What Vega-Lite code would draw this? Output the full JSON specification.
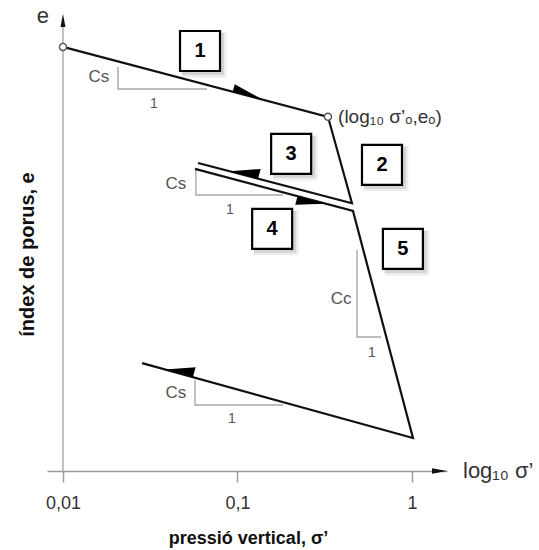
{
  "$schema": "https://vega.github.io/schema/vega-lite/v6.json",
  "width": 400,
  "height": 457,
  "autosize": {"type": "none"},
  "padding": {"left": 47, "right": 92, "top": 14, "bottom": 79},
  "background": "white",
  "config": {"view": {"stroke": null}, "font": "Liberation Sans"},
  "datasets": {
    "curve": [
      {"seg": "a", "i": 1, "s": 0.01, "e": 0.928},
      {"seg": "a", "i": 2, "s": 0.330, "e": 0.775},
      {"seg": "a", "i": 3, "s": 0.453, "e": 0.586},
      {"seg": "a", "i": 4, "s": 0.0594, "e": 0.674},
      {"seg": "b", "i": 1, "s": 0.0571, "e": 0.661},
      {"seg": "b", "i": 2, "s": 0.459, "e": 0.569},
      {"seg": "b", "i": 3, "s": 1.013, "e": 0.0722},
      {"seg": "b", "i": 4, "s": 0.0284, "e": 0.236}
    ],
    "guides": [
      {"g": "t1", "i": 1, "s": 0.02066, "e": 0.884},
      {"g": "t1", "i": 2, "s": 0.02066, "e": 0.836},
      {"g": "t1", "i": 3, "s": 0.0669, "e": 0.836},
      {"g": "t2", "i": 1, "s": 0.0578, "e": 0.661},
      {"g": "t2", "i": 2, "s": 0.0578, "e": 0.604},
      {"g": "t2", "i": 3, "s": 0.1823, "e": 0.604},
      {"g": "t3", "i": 1, "s": 0.484, "e": 0.4836},
      {"g": "t3", "i": 2, "s": 0.484, "e": 0.2932},
      {"g": "t3", "i": 3, "s": 0.664, "e": 0.2932},
      {"g": "t4", "i": 1, "s": 0.0571, "e": 0.1991},
      {"g": "t4", "i": 2, "s": 0.0571, "e": 0.1444},
      {"g": "t4", "i": 3, "s": 0.1823, "e": 0.1444},
      {"g": "yaxis", "i": 1, "s": 0.01, "e": 0},
      {"g": "yaxis", "i": 2, "s": 0.01, "e": 0.972}
    ],
    "boxes": [
      {"n": "1", "s": 0.0610, "e": 0.919},
      {"n": "2", "s": 0.673, "e": 0.670},
      {"n": "3", "s": 0.203, "e": 0.694},
      {"n": "4", "s": 0.158, "e": 0.530},
      {"n": "5", "s": 0.887, "e": 0.486}
    ],
    "notes": [
      {"kind": "c", "t": "Cs", "s": 0.01608, "e": 0.862},
      {"kind": "c", "t": "Cs", "s": 0.0444, "e": 0.628},
      {"kind": "c", "t": "Cc", "s": 0.392, "e": 0.376},
      {"kind": "c", "t": "Cs", "s": 0.0444, "e": 0.1707},
      {"kind": "one", "t": "1", "s": 0.0332, "e": 0.803},
      {"kind": "one", "t": "1", "s": 0.0906, "e": 0.571},
      {"kind": "one", "t": "1", "s": 0.590, "e": 0.258},
      {"kind": "one", "t": "1", "s": 0.0930, "e": 0.1138}
    ]
  },
  "encoding": {
    "x": {
      "field": "s", "type": "quantitative",
      "scale": {"type": "log", "domain": [0.0081, 1.587]},
      "axis": {
        "values": [0.01, 0.1, 1], "format": "~g",
        "labelExpr": "replace(datum.label, '.', ',')",
        "grid": false, "domainColor": "#9a9a9a", "domainWidth": 1.5,
        "tickColor": "#9a9a9a", "tickWidth": 1.5, "tickSize": 11,
        "labelFontSize": 18, "labelColor": "#333", "labelPadding": 12,
        "labelFlush": false, "labelOverlap": false,
        "title": "pressió vertical, σ’", "titleFontSize": 18, "titleFontWeight": "bold",
        "titleColor": "#111", "titlePadding": 17, "titleX": 201
      }
    },
    "y": {
      "field": "e", "type": "quantitative",
      "scale": {"domain": [0, 1]},
      "axis": {
        "domain": false, "ticks": false, "labels": false, "grid": false,
        "title": "índex de porus, e", "titleFontSize": 20, "titleFontWeight": "bold",
        "titleColor": "#111", "titlePadding": 10, "titleY": 240
      }
    }
  },
  "layer": [
    {
      "data": {"name": "guides"},
      "mark": {"type": "line", "color": "#a8a8a8", "strokeWidth": 1.4},
      "encoding": {"detail": {"field": "g"}, "order": {"field": "i"}}
    },
    {
      "data": {"name": "curve"},
      "mark": {"type": "line", "color": "#111", "strokeWidth": 2.2, "strokeJoin": "miter"},
      "encoding": {"detail": {"field": "seg"}, "order": {"field": "i"}}
    },
    {
      "data": {"values": [{"s": 0.1149, "e": 0.8208}]},
      "mark": {"type": "point", "shape": "M-1,-0.5L1,0L-1,0Z", "size": 1000, "angle": 14.8, "filled": true, "color": "#000", "opacity": 1}
    },
    {
      "data": {"values": [{"s": 0.2655, "e": 0.593}]},
      "mark": {"type": "point", "shape": "M-1,0.6L1,0L-1,0Z", "size": 840, "angle": 14.9, "filled": true, "color": "#000", "opacity": 1}
    },
    {
      "data": {"values": [{"s": 0.109, "e": 0.6477}, {"s": 0.0462, "e": 0.214}]},
      "mark": {"type": "point", "shape": "M-1,0.7L1,0L-1,0Z", "size": 840, "angle": 195, "filled": true, "color": "#000", "opacity": 1}
    },
    {
      "data": {"values": [{"s": 0.01, "e": 0.986}]},
      "mark": {"type": "point", "shape": "M0,-1L0.38,1L-0.38,1Z", "size": 169, "filled": true, "color": "#111", "opacity": 1}
    },
    {
      "data": {"values": [{"s": 1.438, "e": 0}]},
      "mark": {"type": "point", "shape": "M1,0L-1,0.38L-1,-0.38Z", "size": 225, "filled": true, "color": "#111", "opacity": 1}
    },
    {
      "data": {"values": [{"s": 0.01, "e": 0.928}, {"s": 0.330, "e": 0.775}]},
      "mark": {"type": "point", "shape": "circle", "size": 50, "filled": false, "fill": "white", "fillOpacity": 1, "stroke": "#555", "strokeWidth": 1.4, "opacity": 1}
    },
    {
      "data": {"name": "boxes"},
      "mark": {"type": "point", "shape": "square", "size": 2025, "filled": true, "color": "#000", "opacity": 0.07, "xOffset": 4, "yOffset": 4}
    },
    {
      "data": {"name": "boxes"},
      "mark": {"type": "point", "shape": "square", "size": 1764, "filled": true, "color": "#000", "opacity": 0.1, "xOffset": 3, "yOffset": 3}
    },
    {
      "data": {"name": "boxes"},
      "mark": {"type": "point", "shape": "square", "size": 1600, "filled": false, "fill": "white", "fillOpacity": 1, "stroke": "#000", "strokeWidth": 2.2, "opacity": 1}
    },
    {
      "data": {"name": "boxes"},
      "mark": {"type": "text", "fontSize": 20, "fontWeight": "bold", "color": "#000", "align": "center", "baseline": "middle"},
      "encoding": {"text": {"field": "n"}}
    },
    {
      "data": {"name": "notes"},
      "transform": [{"filter": "datum.kind == 'c'"}],
      "mark": {"type": "text", "fontSize": 17, "color": "#555", "align": "center", "baseline": "middle"},
      "encoding": {"text": {"field": "t"}}
    },
    {
      "data": {"name": "notes"},
      "transform": [{"filter": "datum.kind == 'one'"}],
      "mark": {"type": "text", "fontSize": 14, "color": "#555", "align": "center", "baseline": "middle"},
      "encoding": {"text": {"field": "t"}}
    },
    {
      "data": {"values": [{"t": "e", "s": 0.00768, "e": 0.9956}]},
      "mark": {"type": "text", "fontSize": 22, "color": "#333", "align": "center", "baseline": "middle"},
      "encoding": {"text": {"field": "t"}}
    },
    {
      "data": {"values": [{"t": "log₁₀ σ’", "s": 1.96, "e": 0}]},
      "mark": {"type": "text", "fontSize": 22, "color": "#333", "align": "left", "baseline": "middle"},
      "encoding": {"text": {"field": "t"}}
    },
    {
      "data": {"values": [{"t": "(log₁₀ σ’ₒ,eₒ)", "s": 0.377, "e": 0.775}]},
      "mark": {"type": "text", "fontSize": 19, "color": "#333", "align": "left", "baseline": "middle"},
      "encoding": {"text": {"field": "t"}}
    }
  ]
}
